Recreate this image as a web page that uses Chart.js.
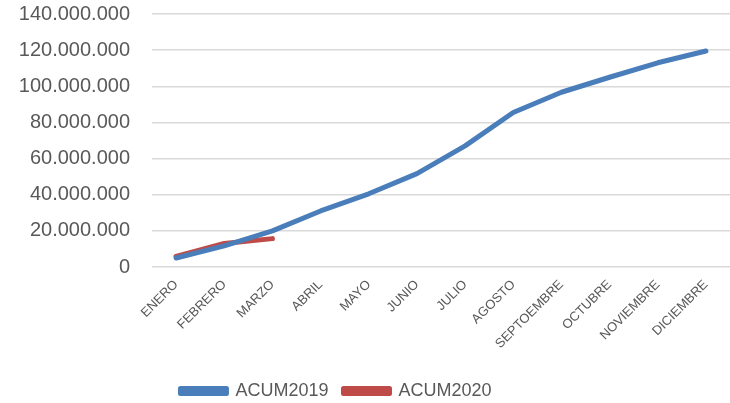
<!DOCTYPE html>
<html>
<head>
<meta charset="utf-8">
<script src="https://cdn.jsdelivr.net/npm/chart.js@4/dist/chart.umd.min.js"></script>
<style>
  html, body { margin: 0; padding: 0; background: #fff; }
  #wrap { width: 730px; height: 403px; }
</style>
</head>
<body>
<div id="wrap"><canvas id="acum"></canvas></div>
<script>
var meses = ['ENERO', 'FEBRERO', 'MARZO', 'ABRIL', 'MAYO', 'JUNIO', 'JULIO', 'AGOSTO',
             'SEPTOEMBRE', 'OCTUBRE', 'NOVIEMBRE', 'DICIEMBRE'];
var acum2019 = [5000000, 11700000, 20000000, 31000000, 40500000, 51700000, 67000000,
                85500000, 96700000, 105000000, 113000000, 119500000];
var acum2020 = [5800000, 13000000, 15700000];

function puntos(v) {
    return String(v).replace(/\B(?=(\d{3})+(?!\d))/g, '.');
}

// the legend sits a bit left of centre in the original
var moverLeyenda = {
    id: 'moverLeyenda',
    afterLayout: function (chart) {
        chart.legend.left -= 29;
        chart.legend.right -= 29;
    }
};

var ctx = document.getElementById('acum').getContext('2d');
var chart = new Chart(ctx, {
    type: 'line',
    data: {
        labels: meses,
        datasets: [{
            label: 'ACUM2019',
            data: acum2019,
            borderColor: '#4a7ebb',
            backgroundColor: '#4a7ebb',
            borderWidth: 5,
            pointRadius: 0,
            borderCapStyle: 'round',
            borderJoinStyle: 'round',
            tension: 0
        }, {
            label: 'ACUM2020',
            data: acum2020,
            borderColor: '#be4b48',
            backgroundColor: '#be4b48',
            borderWidth: 5,
            pointRadius: 0,
            borderCapStyle: 'round',
            borderJoinStyle: 'round',
            tension: 0
        }]
    },
    plugins: [moverLeyenda],
    options: {
        responsive: true,
        maintainAspectRatio: false,
        animation: false,
        layout: { padding: { top: 0, right: 0, left: 0, bottom: -7 } },
        plugins: {
            tooltip: { enabled: false },
            legend: {
                position: 'bottom',
                labels: {
                    boxWidth: 46,
                    boxHeight: 5,
                    color: '#595959',
                    padding: 15,
                    font: { family: 'Liberation Sans', size: 18 }
                }
            }
        },
        scales: {
            x: {
                offset: true,
                grid: { display: false },
                border: { display: false },
                ticks: {
                    color: '#595959',
                    maxRotation: 45,
                    minRotation: 45,
                    autoSkip: false,
                    padding: 2,
                    font: { family: 'Liberation Sans Narrow, Liberation Sans', size: 13 }
                },
                afterFit: function (scale) { scale.height = 100; }
            },
            y: {
                min: 0,
                max: 140000000,
                grid: { color: '#d9d9d9', lineWidth: 1.5, drawTicks: false },
                border: { display: false },
                ticks: {
                    stepSize: 20000000,
                    padding: 22,
                    color: '#595959',
                    font: { family: 'Liberation Sans', size: 20 },
                    callback: function (value) { return puntos(value); }
                },
                afterFit: function (scale) {
                    scale.width = 152;
                    scale.paddingTop = 14;
                    scale.paddingBottom = 12;
                }
            }
        }
    }
});
</script>
</body>
</html>
